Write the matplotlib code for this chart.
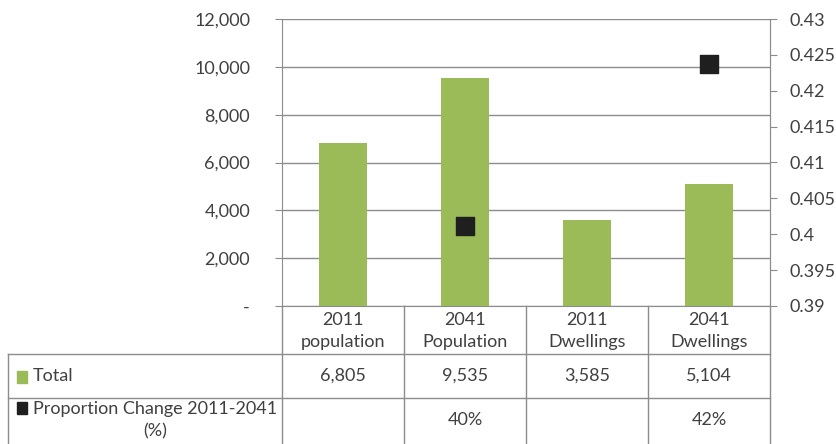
import matplotlib.pyplot as plt
from matplotlib.transforms import blended_transform_factory
from matplotlib.patches import Rectangle

# categories / values
categories = ["2011\npopulation", "2041\nPopulation", "2011\nDwellings", "2041\nDwellings"]
totals = [6805, 9535, 3585, 5104]
prop_change = [None, 0.4012, None, 0.4237]
total_labels = ["6,805", "9,535", "3,585", "5,104"]
prop_labels = ["", "40%", "", "42%"]

green = "#9BBB59"
dark = "#1F1F1F"
grid_col = "#8C8C8C"
txt = "#404040"

plt.rcParams['font.family'] = ['Lato', 'DejaVu Sans']
plt.rcParams['font.size'] = 13

W, H = 837, 444
fig = plt.figure(figsize=(W / 100, H / 100), dpi=100)

def fy(py):
    # pixel row -> figure fraction
    return 1 - py / H

ax = fig.add_axes([282 / W, fy(306), (770 - 282) / W, (306 - 19) / H])
x = list(range(len(categories)))
ax.bar(x, totals, width=0.4, color=green, zorder=3)
ax.set_xlim(-0.5, 3.5)
ax.set_ylim(0, 12000)
ax.set_yticks(range(0, 12001, 2000))
ax.set_yticklabels(["-"] + [f"{v:,}" for v in range(2000, 12001, 2000)], color=txt)
ax.yaxis.grid(True, color=grid_col, lw=1, zorder=0)
ax.set_xticks([])
ax.tick_params(axis='y', length=5, color=grid_col, pad=18)
for s in ["top"]:
    ax.spines[s].set_visible(False)
for s in ["left", "bottom", "right"]:
    ax.spines[s].set_color(grid_col)

ax2 = ax.twinx()
ax2.set_ylim(0.39, 0.43)
ax2.set_yticks([0.39 + 0.005 * i for i in range(9)])
ax2.set_yticklabels(["0.39", "0.395", "0.4", "0.405", "0.41", "0.415", "0.42", "0.425", "0.43"], color=txt)
ax2.tick_params(axis='y', length=5, color=grid_col, pad=9)
ax2.spines["top"].set_visible(False)
ax2.spines["left"].set_visible(False)
ax2.spines["bottom"].set_visible(False)
ax2.spines["right"].set_color(grid_col)
px = [i for i, v in enumerate(prop_change) if v is not None]
py = [v for v in prop_change if v is not None]
ax2.scatter(px, py, marker="s", s=150, color=dark, zorder=5)

# data table underneath
tr = blended_transform_factory(ax.transData, fig.transFigure)
left_edge = ax.transData.inverted().transform((8, 0))[0]
rows = [306, 354, 398, 446]
kw = dict(color=grid_col, lw=1, clip_on=False, transform=tr)
for r in rows[1:3]:
    ax.plot([left_edge, 3.5], [fy(r), fy(r)], **kw)
ax.plot([left_edge, left_edge], [fy(354), fy(446)], **kw)
for b in [-0.5, 0.5, 1.5, 2.5, 3.5]:
    ax.plot([b, b], [fy(306), fy(446)], **kw)

for i, c in enumerate(categories):
    ax.text(i, fy(331), c, transform=tr, ha="center", va="center", color=txt, linespacing=1.45)
    ax.text(i, fy(376), total_labels[i], transform=tr, ha="center", va="center", color=txt)
    ax.text(i, fy(420), prop_labels[i], transform=tr, ha="center", va="center", color=txt)

# row headers with legend keys
fig.patches.append(Rectangle((17 / W, fy(383)), 10 / W, 12 / H, color=green, transform=fig.transFigure))
fig.text(33 / W, fy(376), "Total", ha="left", va="center", color=txt)
fig.patches.append(Rectangle((17 / W, fy(414)), 10 / W, 12 / H, color=dark, transform=fig.transFigure))
fig.text(155 / W, fy(420), "Proportion Change 2011-2041\n(%)", ha="center", va="center",
         color=txt, multialignment="center", linespacing=1.45)

fig.savefig("out.png", dpi=100)
